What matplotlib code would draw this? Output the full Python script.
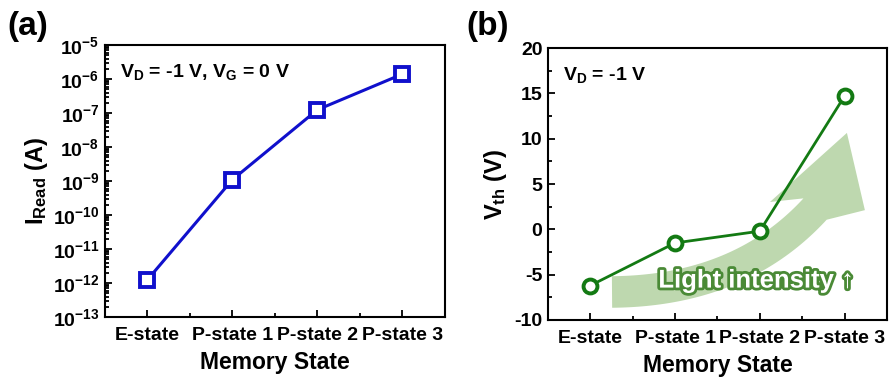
import matplotlib
matplotlib.use("Agg")
import numpy as np
import matplotlib.pyplot as plt
import matplotlib.patheffects as pe
from matplotlib.patches import Polygon
from matplotlib.ticker import MultipleLocator, LogLocator, NullFormatter

plt.rcParams['font.family'] = ['Liberation Sans', 'DejaVu Sans']
plt.rcParams['font.weight'] = 'bold'
plt.rcParams['mathtext.fontset'] = 'custom'
plt.rcParams['mathtext.rm'] = 'Liberation Sans:bold'
plt.rcParams['mathtext.it'] = 'Liberation Sans:bold'
plt.rcParams['mathtext.bf'] = 'Liberation Sans:bold'
plt.rcParams['mathtext.default'] = 'regular'
plt.rcParams['axes.unicode_minus'] = False

states = ['E-state', 'P-state 1', 'P-state 2', 'P-state 3']
i_read = [1.25e-12, 1.1e-9, 1.25e-7, 1.4e-6]   # A
v_th = [-6.2, -1.5, -0.2, 14.7]               # V

fig = plt.figure(figsize=(8.92, 3.83), dpi=100)
ax1 = fig.add_axes([0.1177, 0.1723, 0.381, 0.710])
ax2 = fig.add_axes([0.6143, 0.1645, 0.380, 0.710])

x = list(range(len(states)))


def style_axes(ax):
    for s in ax.spines.values():
        s.set_linewidth(1.5)
    ax.tick_params(which='both', direction='in', top=False, right=False,
                   labelsize=14, width=1.3)
    ax.tick_params(which='major', length=5)
    ax.tick_params(which='minor', length=3)
    ax.set_xlim(-0.5, 3.5)
    ax.set_xticks(x)
    ax.set_xticklabels(states)
    ax.xaxis.set_minor_locator(MultipleLocator(0.5))
    ax.tick_params(axis='x', pad=7)
    ax.tick_params(axis='y', pad=4)
    ax.set_xlabel('Memory State', fontsize=16.5, fontweight='bold', labelpad=5)
    for lbl in ax.get_xticklabels() + ax.get_yticklabels():
        lbl.set_fontweight('bold')


def curved_arrow(ax, p0, pc, p1, half_w, head, aspect, **kw):
    """Broad curved arrow in axes fractions: quadratic body + triangular head."""
    t = np.linspace(0, 1, 60)[:, None]
    p0, pc, p1 = map(np.asarray, (p0, pc, p1))
    pts = (1 - t) ** 2 * p0 + 2 * (1 - t) * t * pc + t ** 2 * p1
    tan = 2 * (1 - t) * (pc - p0) + 2 * t * (p1 - pc)
    tan = tan * [aspect, 1.0]
    tan /= np.linalg.norm(tan, axis=1, keepdims=True)
    nrm = np.column_stack([-tan[:, 1], tan[:, 0]]) * half_w
    nrm[:, 0] /= aspect
    top = pts + nrm
    bot = pts - nrm
    outline = np.vstack([top, head, bot[::-1]])
    ax.add_patch(Polygon(outline, closed=True, transform=ax.transAxes, **kw))


# (a) read current
ax1.plot(x, i_read, color='#1010cc', lw=2.2, marker='s', ms=10,
         mfc='white', mec='#1010cc', mew=2.8)
ax1.set_yscale('log')
ax1.set_ylim(1e-13, 1e-5)
ax1.yaxis.set_major_locator(LogLocator(base=10, numticks=20))
ax1.yaxis.set_minor_locator(LogLocator(base=10, subs=range(2, 10), numticks=20))
ax1.yaxis.set_minor_formatter(NullFormatter())
style_axes(ax1)
ax1.set_ylabel(r'$I_{Read}$ (A)', fontsize=17, fontweight='bold', labelpad=2)
ax1.text(0.045, 0.9, r'$V_D$ = -1 V, $V_G$ = 0 V', transform=ax1.transAxes,
         fontsize=14, fontweight='bold', va='center')
fig.text(0.008, 0.93, '(a)', fontsize=24, fontweight='bold', va='center')

# (b) threshold voltage
curved_arrow(ax2, (0.189, 0.103), (0.566, 0.107), (0.788, 0.408), 0.058,
             [(0.655, 0.434), (0.882, 0.688), (0.935, 0.404)],
             aspect=339 / 272, facecolor='#a8cc94', alpha=0.75, lw=0, zorder=1)
ax2.plot(x, v_th, color='#137a13', lw=2.0, marker='o', ms=10,
         mfc='white', mec='#137a13', mew=2.8, zorder=3)
ax2.set_ylim(-10, 20)
ax2.yaxis.set_major_locator(MultipleLocator(5))
ax2.yaxis.set_minor_locator(MultipleLocator(2.5))
style_axes(ax2)
ax2.set_ylabel(r'$V_{th}$ (V)', fontsize=17, fontweight='bold', labelpad=4)
ax2.text(0.045, 0.9, r'$V_D$ = -1 V', transform=ax2.transAxes,
         fontsize=14, fontweight='bold', va='center')
ax2.text(0.615, 0.145, 'Light intensity \u2191', transform=ax2.transAxes,
         fontsize=18.5, fontweight='bold', color='white', ha='center',
         va='center', zorder=4,
         path_effects=[pe.withStroke(linewidth=4, foreground='#4a8a36')])
fig.text(0.523, 0.93, '(b)', fontsize=24, fontweight='bold', va='center')

fig.savefig('out.png', dpi=100)
